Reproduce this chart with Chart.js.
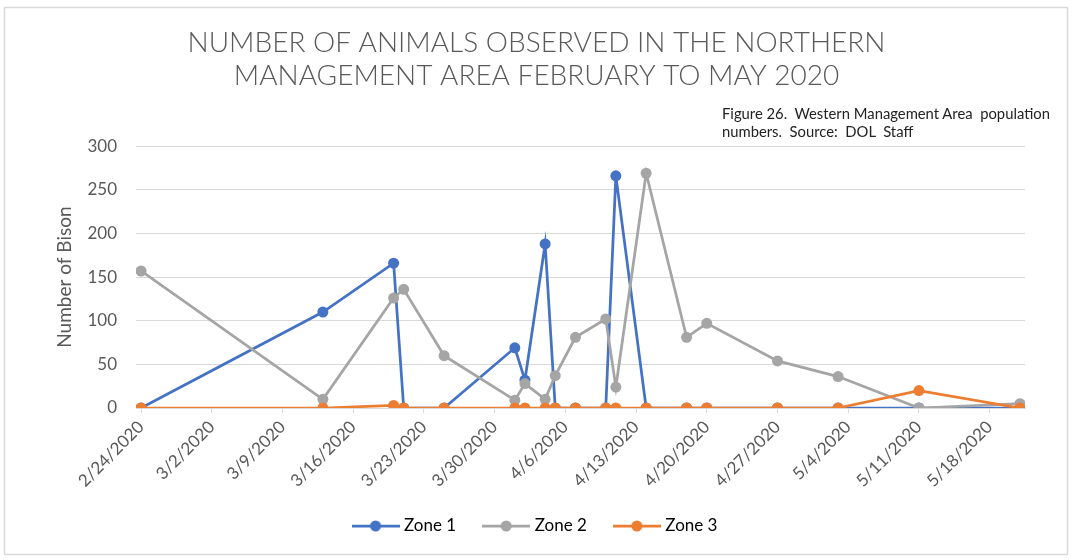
<!DOCTYPE html>
<html>
<head>
<meta charset="utf-8">
<script src="https://cdn.jsdelivr.net/npm/chart.js@4.4.1/dist/chart.umd.min.js"></script>
<style>
  html, body { margin: 0; padding: 0; background: #fff; }
  #wrap { position: relative; width: 1073px; height: 560px; }
  #note {
    position: absolute; left: 722px; top: 104px;
    font-family: Lato, sans-serif; font-size: 14.8px; line-height: 18px;
    color: #222; white-space: pre;
  }
</style>
</head>
<body>
<div id="wrap">
  <canvas id="bison" width="1073" height="560"></canvas>
  <div id="note">Figure 26.  Western Management Area  population
numbers.  Source:  DOL  Staff</div>
</div>
<script>
// observation dates and counts per zone
const dates = ['2/24/2020', '3/13/2020', '3/20/2020', '3/21/2020', '3/25/2020', '4/1/2020', '4/2/2020',
  '4/4/2020', '4/5/2020', '4/7/2020', '4/10/2020', '4/11/2020', '4/14/2020', '4/18/2020', '4/20/2020',
  '4/27/2020', '5/3/2020', '5/11/2020', '5/21/2020'];
const zone1 = [0, 110, 166, 0, 0, 69, 32, 188, 0, 0, 0, 266, 0, 0, 0, 0, 0, 0, 0];
const zone2 = [157, 10, 126, 136, 60, 9, 28, 10, 37, 81, 102, 24, 269, 81, 97, 54, 36, 0, 5];
const zone3 = [0, 0, 3, 0, 0, 0, 0, 0, 0, 0, 0, 0, 0, 0, 0, 0, 0, 20, 0];
const tickLabels = ['2/24/2020', '3/2/2020', '3/9/2020', '3/16/2020', '3/23/2020', '3/30/2020', '4/6/2020',
  '4/13/2020', '4/20/2020', '4/27/2020', '5/4/2020', '5/11/2020', '5/18/2020'];
const yTicks = [0, 50, 100, 150, 200, 250, 300];

// days since first date
function dayNum(s) {
  const p = s.split('/').map(Number);
  return (Date.UTC(p[2], p[0] - 1, p[1]) - Date.UTC(2020, 1, 24)) / 86400000;
}
const days = dates.map(dayNum);
const tickDays = tickLabels.map(dayNum);
const pts = arr => arr.map((v, i) => ({ x: days[i], y: v }));

// line + dot icon for the legend
function legendIcon(color) {
  const c = document.createElement('canvas');
  c.width = 48; c.height = 12;
  const g = c.getContext('2d');
  g.strokeStyle = color; g.lineWidth = 2.75;
  g.beginPath(); g.moveTo(0, 6); g.lineTo(48, 6); g.stroke();
  g.fillStyle = color;
  g.beginPath(); g.arc(24, 6, 5.5, 0, Math.PI * 2); g.fill();
  return c;
}

const colors = ['#4472C4', '#A5A5A5', '#ED7D31'];
const names = ['Zone 1', 'Zone 2', 'Zone 3'];
const series = [zone1, zone2, zone3];

const frame = {
  id: 'frame',
  beforeDraw(chart) {
    const ctx = chart.ctx;
    ctx.save();
    ctx.strokeStyle = '#D9D9D9';
    ctx.lineWidth = 1.5;
    ctx.strokeRect(4.5, 7.5, 1063, 547);
    ctx.restore();
  }
};

Chart.defaults.font.family = 'Lato, sans-serif';
Chart.defaults.color = '#595959';

new Chart(document.getElementById('bison'), {
  type: 'line',
  data: {
    datasets: series.map((s, i) => ({
      label: names[i],
      data: pts(s),
      order: 3 - i,   // zone 3 drawn on top, like the original
      borderColor: colors[i],
      backgroundColor: colors[i],
      borderWidth: 2.75,
      pointRadius: 5.5,
      pointBorderWidth: 0,
      tension: 0,
      fill: false
    }))
  },
  options: {
    responsive: false,
    animation: false,
    layout: { padding: { left: 48, right: 48, top: 0, bottom: 15.5 } },
    plugins: {
      title: {
        display: true,
        text: ['NUMBER OF ANIMALS OBSERVED IN THE NORTHERN', 'MANAGEMENT AREA FEBRUARY TO MAY 2020'],
        color: '#595959',
        font: { size: 28, weight: 300 },
        lineHeight: 1.18,
        padding: { top: 26, bottom: 53 }
      },
      legend: {
        position: 'bottom',
        labels: {
          usePointStyle: true,
          pointStyleWidth: 40,
          padding: 30,
          font: { size: 17 },
          color: '#595959',
          generateLabels: chart => names.map((n, i) => ({
            text: n,
            pointStyle: legendIcon(colors[i]),
            fillStyle: colors[i],
            strokeStyle: colors[i],
            lineWidth: 0,
            datasetIndex: i,
            hidden: false
          }))
        }
      },
      tooltip: { enabled: false }
    },
    scales: {
      x: {
        type: 'linear',
        min: -0.5,
        max: 87.5,
        afterBuildTicks: scale => { scale.ticks = tickDays.map(v => ({ value: v })); },
        afterFit: scale => { scale.height = 79.5; },
        ticks: {
          autoSkip: false,
          minRotation: 45,
          maxRotation: 45,
          padding: 4,
          font: { size: 17 },
          color: '#595959',
          callback: (v) => tickLabels[tickDays.indexOf(v)]
        },
        grid: { drawOnChartArea: false, drawTicks: true, tickLength: 5, color: '#D9D9D9' },
        border: { color: '#D9D9D9' }
      },
      y: {
        min: 0,
        max: 300,
        afterBuildTicks: scale => { scale.ticks = yTicks.map(v => ({ value: v })); },
        afterFit: scale => { scale.width = 88; },
        ticks: { padding: 19, font: { size: 17 }, color: '#595959' },
        grid: { color: '#D9D9D9', lineWidth: 1, drawTicks: false },
        border: { display: false },
        title: {
          display: true,
          text: 'Number of Bison',
          color: '#595959',
          font: { size: 19 },
          padding: { top: 5, bottom: 0 }
        }
      }
    }
  },
  plugins: [frame]
});
</script>
</body>
</html>
